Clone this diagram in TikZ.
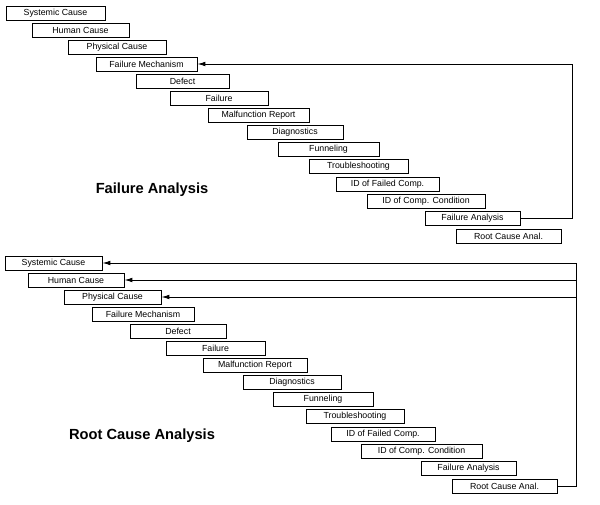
\documentclass[tikz,border=0pt]{standalone}
\usepackage{fontspec}
\setmainfont{Liberation Sans}
\usetikzlibrary{arrows.meta}
\begin{document}
\begin{tikzpicture}[x=0.75pt,y=-0.75pt,
 box/.style={draw,line width=0.6pt,inner sep=0pt,font=\fontsize{6.6}{7}\selectfont,minimum height=10.5pt},
 arr/.style={line width=0.7pt,-{Latex[length=6pt,width=3.5pt]}},
 ttl/.style={font=\bfseries\fontsize{11}{13}\selectfont}]
\useasboundingbox (0,0) rectangle (600,504);
\newcommand{\bx}[5]{\node[box,minimum width={(#3-#2)*0.75pt}] (#1) at ({(#2+#3)/2},#4) {#5};}
% top
\bx{a1}{6}{105}{13}{Systemic Cause}
\bx{a2}{32}{129}{30}{Human Cause}
\bx{a3}{68}{166}{47}{Physical Cause}
\bx{a4}{96}{197}{64}{Failure Mechanism}
\bx{a5}{136}{229}{81}{Defect}
\bx{a6}{170}{268}{98}{Failure}
\bx{a7}{208}{309}{115}{Malfunction Report}
\bx{a8}{247}{343}{132}{Diagnostics}
\bx{a9}{278}{379}{149}{Funneling}
\bx{a10}{309}{408}{166}{Troubleshooting}
\bx{a11}{336}{439}{184}{ID of Failed Comp.}
\bx{a12}{367}{485}{201}{ID of Comp. Condition}
\bx{a13}{425}{520}{218}{Failure Analysis}
\bx{a14}{456}{561}{236}{Root Cause Anal.}
\coordinate (ta) at (572,218);
\coordinate (tb) at (572,64);
\draw[arr] (a13.east) -- (ta) -- (tb) -- (a4.east);
\node[ttl] (t1) at (152,190) {Failure Analysis};
% bottom
\bx{b1}{5}{102}{263}{Systemic Cause}
\bx{b2}{28}{124}{280}{Human Cause}
\bx{b3}{64}{161}{297}{Physical Cause}
\bx{b4}{92}{194}{314}{Failure Mechanism}
\bx{b5}{130}{226}{331}{Defect}
\bx{b6}{166}{265}{348}{Failure}
\bx{b7}{203}{307}{365}{Malfunction Report}
\bx{b8}{243}{341}{382}{Diagnostics}
\bx{b9}{273}{373}{399}{Funneling}
\bx{b10}{306}{404}{416}{Troubleshooting}
\bx{b11}{331}{435}{434}{ID of Failed Comp.}
\bx{b12}{361}{482}{451}{ID of Comp. Condition}
\bx{b13}{421}{516}{468}{Failure Analysis}
\bx{b14}{452}{557}{486}{Root Cause Anal.}
\coordinate (ba) at (576,486);
\coordinate (bb) at (576,263);
\coordinate (bc) at (576,280);
\coordinate (bd) at (576,297);
\draw[line width=0.7pt] (b14.east) -- (ba) -- (bb);
\draw[arr] (bb) -- (b1.east);
\draw[arr] (bc) -- (b2.east);
\draw[arr] (bd) -- (b3.east);
\node[ttl] (t2) at (142,436) {Root Cause Analysis};
\end{tikzpicture}
\end{document}
